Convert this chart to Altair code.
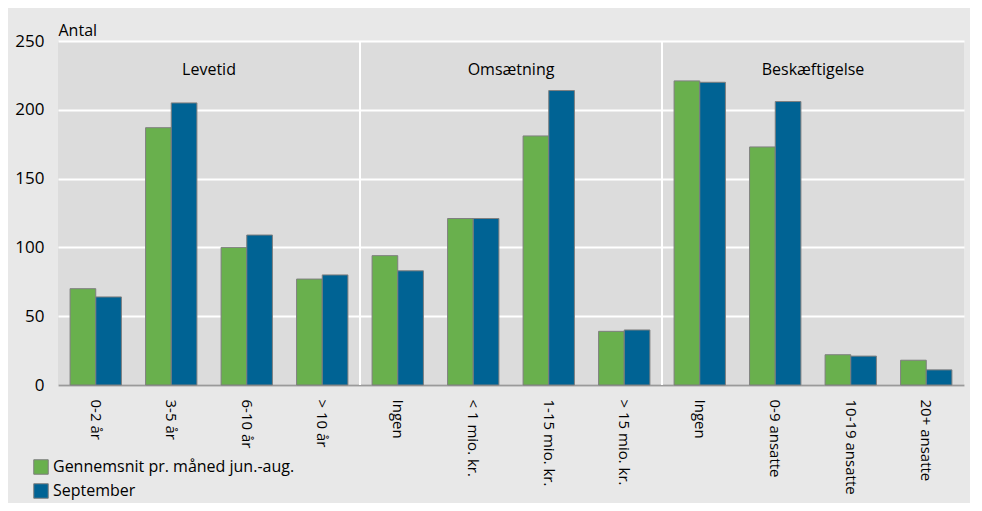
import altair as alt
import pandas as pd

groups = ["Levetid"] * 4 + ["Omsætning"] * 4 + ["Beskæftigelse"] * 4
labels = ["0-2 år", "3-5 år", "6-10 år", "> 10 år",
          "Ingen", "< 1 mio. kr.", "1-15 mio. kr.", "> 15 mio. kr.",
          "Ingen", "0-9 ansatte", "10-19 ansatte", "20+ ansatte"]
avg_values = [70, 187, 100, 77, 94, 121, 181, 39, 221, 173, 22, 18]
sep_values = [64, 205, 109, 80, 83, 121, 214, 40, 220, 206, 21, 11]
series_names = ["Gennemsnit pr. måned jun.-aug.", "September"]
group_names = ["Levetid", "Omsætning", "Beskæftigelse"]
colors = ["#69b04d", "#006394"]
y_ticks = [0, 50, 100, 150, 200, 250]

FONT = "Open Sans"

keys = [f"{g}|{l}" for g, l in zip(groups, labels)]
rows = []
for k, a, s in zip(keys, avg_values, sep_values):
    rows.append({"key": k, "series": series_names[0], "value": a})
    rows.append({"key": k, "series": series_names[1], "value": s})
df = pd.DataFrame(rows)

# group separators and labels (positions in group-index units)
counts = [groups.count(g) for g in group_names]
starts = [sum(counts[:i]) for i in range(len(counts))]
sep_df = pd.DataFrame({"pos": starts[1:], "lo": [0] * (len(starts) - 1), "hi": [250] * (len(starts) - 1)})
lab_df = pd.DataFrame({"pos": [s + c / 2 for s, c in zip(starts, counts)], "name": group_names, "yv": [229] * 3})

yscale = alt.Scale(domain=[0, 250], nice=False, zero=True)

bars = alt.Chart(df).mark_bar(stroke="#7f7f7f", strokeWidth=1).encode(
    x=alt.X("key:N", sort=keys, title=None,
            scale=alt.Scale(paddingInner=0.32, paddingOuter=0.16),
            axis=alt.Axis(labelExpr="split(datum.label, '|')[1]", labelAngle=90,
                          labelFontSize=15, labelPadding=14, ticks=False,
                          domainColor="#9a9a9a", domainWidth=2, labelColor="#000",
                          labelFont=FONT, labelLimit=200, grid=False)),
    xOffset=alt.XOffset("series:N", sort=series_names),
    y=alt.Y("value:Q", scale=yscale, stack=None,
            axis=alt.Axis(values=y_ticks, title="Antal",
                          titleAngle=0, titleAlign="left", titleBaseline="bottom",
                          titleX=0, titleY=-3, titleFontSize=16, titleFontWeight="normal",
                          titleFont=FONT, titleColor="#000",
                          labelFontSize=17, labelPadding=14, labelFont=FONT, labelColor="#000",
                          ticks=False, domain=False, grid=True, gridColor="#ffffff",
                          gridWidth=2)),
    color=alt.Color("series:N", sort=series_names,
                    scale=alt.Scale(domain=series_names, range=colors),
                    legend=alt.Legend(title=None, orient="none", legendX=-25, legendY=418,
                                      symbolType="square", symbolSize=210,
                                      symbolStrokeColor="#7f7f7f", symbolStrokeWidth=1,
                                      labelFontSize=16, labelFont=FONT, labelColor="#000",
                                      labelLimit=400, rowPadding=4, symbolOpacity=1)),
)

xq = alt.Scale(domain=[0, len(keys)])
seps = alt.Chart(sep_df).mark_rule(color="#ffffff", strokeWidth=2).encode(
    x=alt.X("pos:Q", scale=xq, axis=None),
    y=alt.Y("lo:Q", scale=yscale),
    y2="hi:Q",
)
texts = alt.Chart(lab_df).mark_text(fontSize=16, font=FONT, color="#000").encode(
    x=alt.X("pos:Q", scale=xq, axis=None),
    y=alt.Y("yv:Q", scale=yscale),
    text="name:N",
)

chart = alt.layer(seps, bars, texts).resolve_scale(x="independent").properties(
    width=906, height=344, background="#e8e8e8",
    autosize=alt.AutoSizeParams(type="none"),
    padding={"left": 50, "top": 33, "right": 6, "bottom": 118},
).configure_view(fill="#dcdcdc", strokeWidth=0)

chart.save("out.html", embed_options={"renderer": "svg", "actions": False})
